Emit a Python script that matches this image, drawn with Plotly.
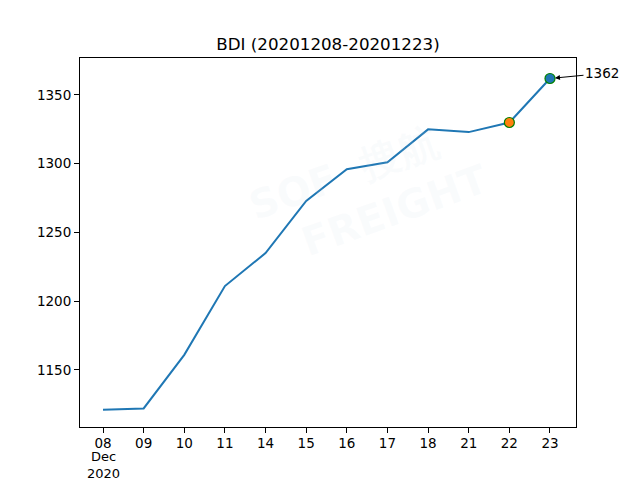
import plotly.graph_objects as go

dates = ["08", "09", "10", "11", "14", "15", "16", "17", "18", "21", "22", "23"]
tick_labels = ["08", "09", "10", "11", "14", "15", "16", "17", "18", "21", "22", "23"]
sub_labels = ["Dec", "2020"]
bdi = [1121, 1122, 1161, 1211, 1235, 1273, 1296, 1301, 1325, 1323, 1330, 1362]
y_ticks = [1150, 1200, 1250, 1300, 1350]

idx = list(range(len(dates)))
font = "DejaVu Sans, sans-serif"

fig = go.Figure()
fig.add_trace(go.Scatter(x=idx, y=bdi, mode="lines",
                         line=dict(color="#1f77b4", width=2), hoverinfo="skip"))
fig.add_trace(go.Scatter(x=[idx[-2]], y=[bdi[-2]], mode="markers",
                         marker=dict(color="#ff7f0e", size=10, line=dict(color="green", width=1.2))))
fig.add_trace(go.Scatter(x=[idx[-1]], y=[bdi[-1]], mode="markers",
                         marker=dict(color="#1f77b4", size=10, line=dict(color="green", width=1.2))))

fig.add_annotation(x=idx[-1], y=bdi[-1], xref="x", yref="y", text=str(bdi[-1]),
                   showarrow=True, arrowhead=2, arrowsize=1, arrowwidth=1, arrowcolor="black",
                   ax=52, ay=-5, standoff=5, font=dict(family=font, size=13.5, color="black"))

# second and third lines of the first tick label
fig.add_annotation(x=idx[0], y=0, xref="x", yref="paper", text="<br>".join(sub_labels), showarrow=False,
                   yanchor="middle", yshift=-37.5,
                   font=dict(family=font, size=13, color="black"))

# faint watermark
fig.add_annotation(x=0.55, y=0.62, xref="paper", yref="paper", text="<b>SOF  搜航<br>     FREIGHT</b>",
                   showarrow=False, textangle=-20, font=dict(family=font, size=40, color="rgba(200,215,230,0.09)"))

fig.update_layout(
    width=640, height=480,
    margin=dict(l=72, r=72, t=50, b=61),
    paper_bgcolor="white", plot_bgcolor="white",
    showlegend=False,
    title=dict(text="BDI (20201208-20201223)", x=0.5, xanchor="center", y=0.925, yanchor="middle",
               font=dict(family=font, size=16.7, color="black")),
    font=dict(family=font, size=13.5, color="black"),
)
fig.update_xaxes(range=[-0.566, 11.64], tickvals=idx, ticktext=tick_labels, automargin=False,
                 showgrid=False, zeroline=False, showline=True, linecolor="black", linewidth=1,
                 mirror=True, ticks="outside", ticklen=5, tickcolor="black", ticklabelstandoff=-1,
                 tickfont=dict(family=font, size=13.5, color="black"))
fig.update_yaxes(range=[1108.5, 1376.9], tickvals=y_ticks, automargin=False,
                 showgrid=False, zeroline=False, showline=True, linecolor="black", linewidth=1,
                 mirror=True, ticks="outside", ticklen=5, tickcolor="black",
                 tickfont=dict(family=font, size=13.5, color="black"))

fig.write_html("out.html")
